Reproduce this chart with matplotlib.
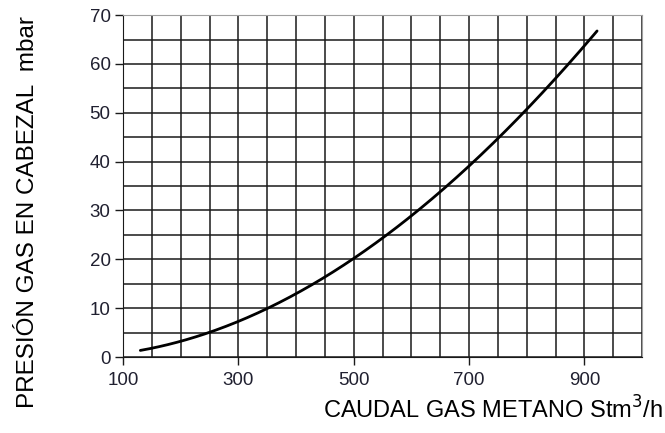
import matplotlib
matplotlib.use("Agg")
import matplotlib.pyplot as plt
import numpy as np

plt.rcParams['font.family'] = ['Liberation Sans', 'DejaVu Sans']

# Data
caudal = [130, 150, 200, 250, 300, 350, 400, 450, 500, 550, 600, 650, 700, 750, 800, 850, 900, 922]
presion = [1.4, 1.8, 3.2, 5.0, 7.3, 10.0, 12.9, 16.3, 20.0, 24.4, 29.3, 34.0, 39.0, 44.8, 50.2, 57.0, 64.3, 66.5]
x_ticks = [100, 300, 500, 700, 900]
y_ticks = [0, 10, 20, 30, 40, 50, 60, 70]

fig = plt.figure(figsize=(6.65, 4.33), dpi=100)
ax = fig.add_axes([0.185, 0.1755, 0.7805, 0.7895])

ax.set_xlim(100, 1000)
ax.set_ylim(0, 70)
ax.set_xticks(x_ticks)
ax.set_yticks(y_ticks)
ax.set_xticks(np.arange(100, 1001, 50), minor=True)
ax.set_yticks(np.arange(0, 71, 5), minor=True)
ax.grid(which='both', color='#1a1a1a', linewidth=1.1)
ax.set_axisbelow(True)
ax.tick_params(which='minor', length=0)
ax.tick_params(which='major', length=6, width=1, color='#1a1a1a', labelsize=13.5,
               labelcolor='#202030')
ax.tick_params(axis='x', pad=5)
ax.tick_params(axis='y', pad=3)

for s in ['top', 'right']:
    ax.spines[s].set_color('#a0a0a0')
for s in ['left', 'bottom']:
    ax.spines[s].set_color('#1a1a1a')

# smooth curve through read points
xs = np.array(caudal, dtype=float)
ys = np.array(presion, dtype=float)
coef = np.polyfit(xs, ys, 3)
xx = np.linspace(xs[0], xs[-1], 300)
ax.plot(xx, np.polyval(coef, xx), color='black', linewidth=2.0, solid_capstyle='round')

fig.text(0.997, 0.052, 'CAUDAL GAS METANO Stm$^{3}$/h', ha='right', va='center', fontsize=17)
fig.text(0.042, 0.51, 'PRESIÓN GAS EN CABEZAL  mbar', rotation=90, ha='center', va='center', fontsize=17.5)

fig.savefig('out.png', dpi=100)
